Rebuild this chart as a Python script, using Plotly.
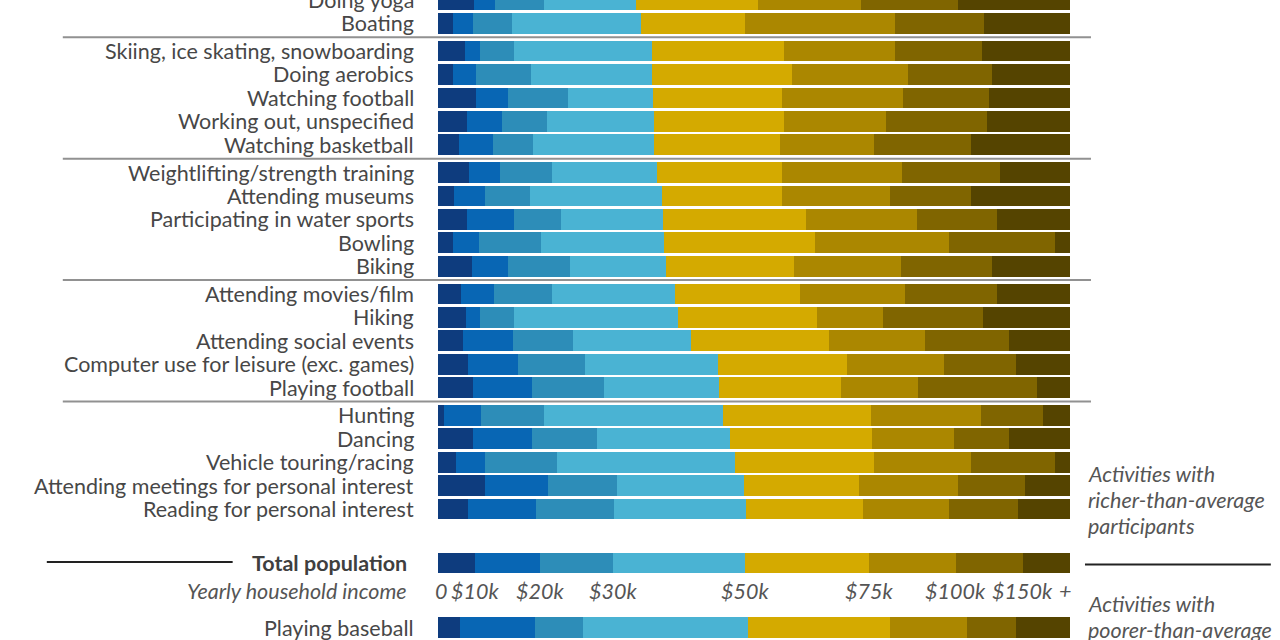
import plotly.graph_objects as go
import numpy as np

# ---------------- data ----------------
group_a = ["Doing yoga", "Boating"]
group_b = ["Skiing, ice skating, snowboarding", "Doing aerobics", "Watching football",
           "Working out, unspecified", "Watching basketball"]
group_c = ["Weightlifting/strength training", "Attending museums", "Participating in water sports",
           "Bowling", "Biking"]
group_d = ["Attending movies/film", "Hiking", "Attending social events",
           "Computer use for leisure (exc. games)", "Playing football"]
group_e = ["Hunting", "Dancing", "Vehicle touring/racing",
           "Attending meetings for personal interest", "Reading for personal interest"]
total_label = "Total population"
poorer_rows = ["Playing baseball"]

income_ticks = ["0", "$10k", "$20k", "$30k", "$50k", "$75k", "$100k", "$150k"]
richer_note = ["Activities with", "richer-than-average", "participants"]
poorer_note = ["Activities with", "poorer-than-average", "participants"]

# share (%) of participants per household-income bracket, rows in order:
# group_a, group_b, group_c, group_d, group_e, total, poorer_rows
under_10k = [5.7, 2.3, 4.3, 2.3, 6.0, 4.6, 3.4, 4.9, 2.6, 4.6, 2.4, 5.4, 3.7, 4.5, 3.9, 4.7, 5.6,
             0.9, 5.5, 2.8, 7.5, 4.7, 5.9, 3.5]
k10_20 = [3.35, 3.2, 2.3, 3.7, 5.1, 5.6, 5.3, 4.9, 4.9, 7.4, 4.1, 5.6, 5.2, 2.1, 8.0, 8.0, 9.2,
          5.9, 9.3, 4.7, 9.9, 10.8, 10.2, 11.8]
k20_30 = [7.75, 6.2, 5.5, 8.7, 9.4, 7.1, 6.3, 8.2, 7.0, 7.5, 9.8, 9.9, 9.2, 5.4, 9.4, 10.5, 11.5,
          10.0, 10.4, 11.3, 10.9, 12.3, 11.6, 7.7]
k30_50 = [14.5, 20.4, 21.7, 19.1, 13.5, 16.9, 19.2, 16.6, 21.0, 16.1, 19.4, 15.2, 19.4, 25.9, 18.8,
          21.1, 18.2, 28.3, 21.0, 28.2, 20.1, 20.9, 20.8, 26.1]
k50_75 = [19.4, 16.4, 21.0, 22.2, 20.4, 20.6, 19.9, 19.8, 19.0, 22.6, 24.0, 20.3, 19.7, 22.0, 21.7,
          20.4, 19.2, 23.4, 22.4, 22.0, 18.2, 18.6, 19.7, 22.4]
k75_100 = [16.2, 23.8, 17.5, 18.4, 19.1, 16.1, 14.9, 19.0, 17.0, 17.6, 21.2, 16.9, 16.7, 10.5, 15.2,
           15.3, 12.2, 17.4, 13.0, 15.3, 15.7, 13.6, 13.7, 12.2]
k100_150 = [15.4, 14.1, 13.7, 13.3, 13.7, 15.9, 15.3, 15.5, 12.8, 12.7, 16.7, 14.4, 14.6, 15.8, 13.3,
            11.5, 18.9, 9.8, 8.8, 13.4, 10.6, 10.9, 10.6, 7.7]
over_150k = [17.7, 13.6, 14.0, 12.3, 12.8, 13.2, 15.7, 11.1, 15.7, 11.5, 2.4, 12.3, 11.5, 13.8, 9.7,
             8.5, 5.2, 4.3, 9.6, 2.3, 7.1, 8.2, 7.5, 8.6]

series = [under_10k, k10_20, k20_30, k30_50, k50_75, k75_100, k100_150, over_150k]
colors = ["#0E3C7E", "#0866B4", "#2D8DB8", "#4AB3D3", "#D4AA00", "#AB8700", "#806500", "#554400"]

# ---------------- layout geometry (pixels) ----------------
W, H = 1280, 640
X0, X1 = 437.5, 1070.0
PITCH, GGAP, BAR_H = 23.43, 4.3, 20.7
TEXT = "#474747"
NOTE = "#555555"
FONT = "Lato"
FS = 21.5

def px_x(px):
    return (px - X0) / (X1 - X0)

def px_y(py):
    return 1 - py / H

groups = [group_a, group_b, group_c, group_d, group_e]
names, ypos, sep_lines = [], [], []
y = -0.1
for gi, g in enumerate(groups):
    if gi > 0:
        prev = ypos[-1]
        y = prev + PITCH + GGAP
        sep_lines.append((prev + y) / 2)
    for j, n in enumerate(g):
        if j > 0:
            y += PITCH
        names.append(n)
        ypos.append(y)
y_total = ypos[-1] + 54.0
names.append(total_label)
ypos.append(y_total)
y_base = y_total + 64.5
for n in poorer_rows:
    names.append(n)
    ypos.append(y_base)
    y_base += PITCH

fig = go.Figure()
for k in range(8):
    fig.add_trace(go.Bar(
        orientation="h", x=series[k], y=ypos, width=BAR_H,
        marker=dict(color=colors[k], line=dict(width=0)),
        hoverinfo="skip", showlegend=False))

annotations = []
for n, yy in zip(names, ypos):
    if n == total_label:
        annotations.append(dict(text="<b>" + n + "</b>", x=px_x(408), xref="paper", xanchor="right",
                                y=px_y(yy), yref="paper", yanchor="middle", showarrow=False,
                                font=dict(family=FONT, size=FS, color="#3f3f3f")))
    else:
        annotations.append(dict(text=n, x=px_x(415), xref="paper", xanchor="right",
                                y=px_y(yy), yref="paper", yanchor="middle", showarrow=False,
                                font=dict(family=FONT, size=FS, color=TEXT)))

# income axis labels from the total-population boundaries
total_shares = [s[names.index(total_label)] for s in series]
bounds = np.concatenate([[0], np.cumsum(total_shares)])
y_tick = px_y(591)
for lab, b in zip(income_ticks, bounds):
    annotations.append(dict(text="<i>" + lab + "</i>", x=b, xref="x", xanchor="center",
                            xshift=3 if lab == "0" else 0,
                            y=y_tick, yref="paper", yanchor="middle", showarrow=False,
                            font=dict(family=FONT, size=FS, color=NOTE)))
annotations.append(dict(text="<i>+</i>", x=100, xref="x", xanchor="right", xshift=3, y=y_tick, yref="paper",
                        yanchor="middle", showarrow=False, font=dict(family=FONT, size=FS, color=NOTE)))
annotations.append(dict(text="<i>Yearly household income</i>", x=px_x(408), xref="paper", xanchor="right",
                        y=y_tick, yref="paper", yanchor="middle", showarrow=False,
                        font=dict(family=FONT, size=FS, color=NOTE)))
for note, top in ((richer_note, 474), (poorer_note, 604)):
    for i, line in enumerate(note):
        annotations.append(dict(text="<i>" + line + "</i>", x=px_x(1086), xref="paper", xanchor="left",
                                y=px_y(top + 26 * i), yref="paper", yanchor="middle", showarrow=False,
                                font=dict(family=FONT, size=FS, color=NOTE)))

shapes = []
for sy in sep_lines:
    shapes.append(dict(type="line", xref="paper", yref="paper", x0=px_x(62), x1=px_x(1091),
                       y0=px_y(sy), y1=px_y(sy), line=dict(color="#919191", width=2)))
shapes.append(dict(type="line", xref="paper", yref="paper", x0=px_x(46), x1=px_x(232),
                   y0=px_y(562), y1=px_y(562), line=dict(color="#222222", width=2)))
shapes.append(dict(type="line", xref="paper", yref="paper", x0=px_x(1085), x1=px_x(1271),
                   y0=px_y(564.5), y1=px_y(564.5), line=dict(color="#222222", width=2)))

fig.update_layout(
    barmode="stack", bargap=0,
    width=W, height=H,
    margin=dict(l=X0, r=W - X1, t=0, b=0, pad=0),
    xaxis=dict(range=[0, 100], visible=False, fixedrange=True),
    yaxis=dict(range=[H, 0], visible=False, fixedrange=True),
    plot_bgcolor="white", paper_bgcolor="white",
    annotations=annotations, shapes=shapes,
    font=dict(family=FONT),
)

fig.write_html("out.html", config={"displayModeBar": False},
               post_script="document.body.style.margin='0px';document.body.style.overflow='hidden';")
